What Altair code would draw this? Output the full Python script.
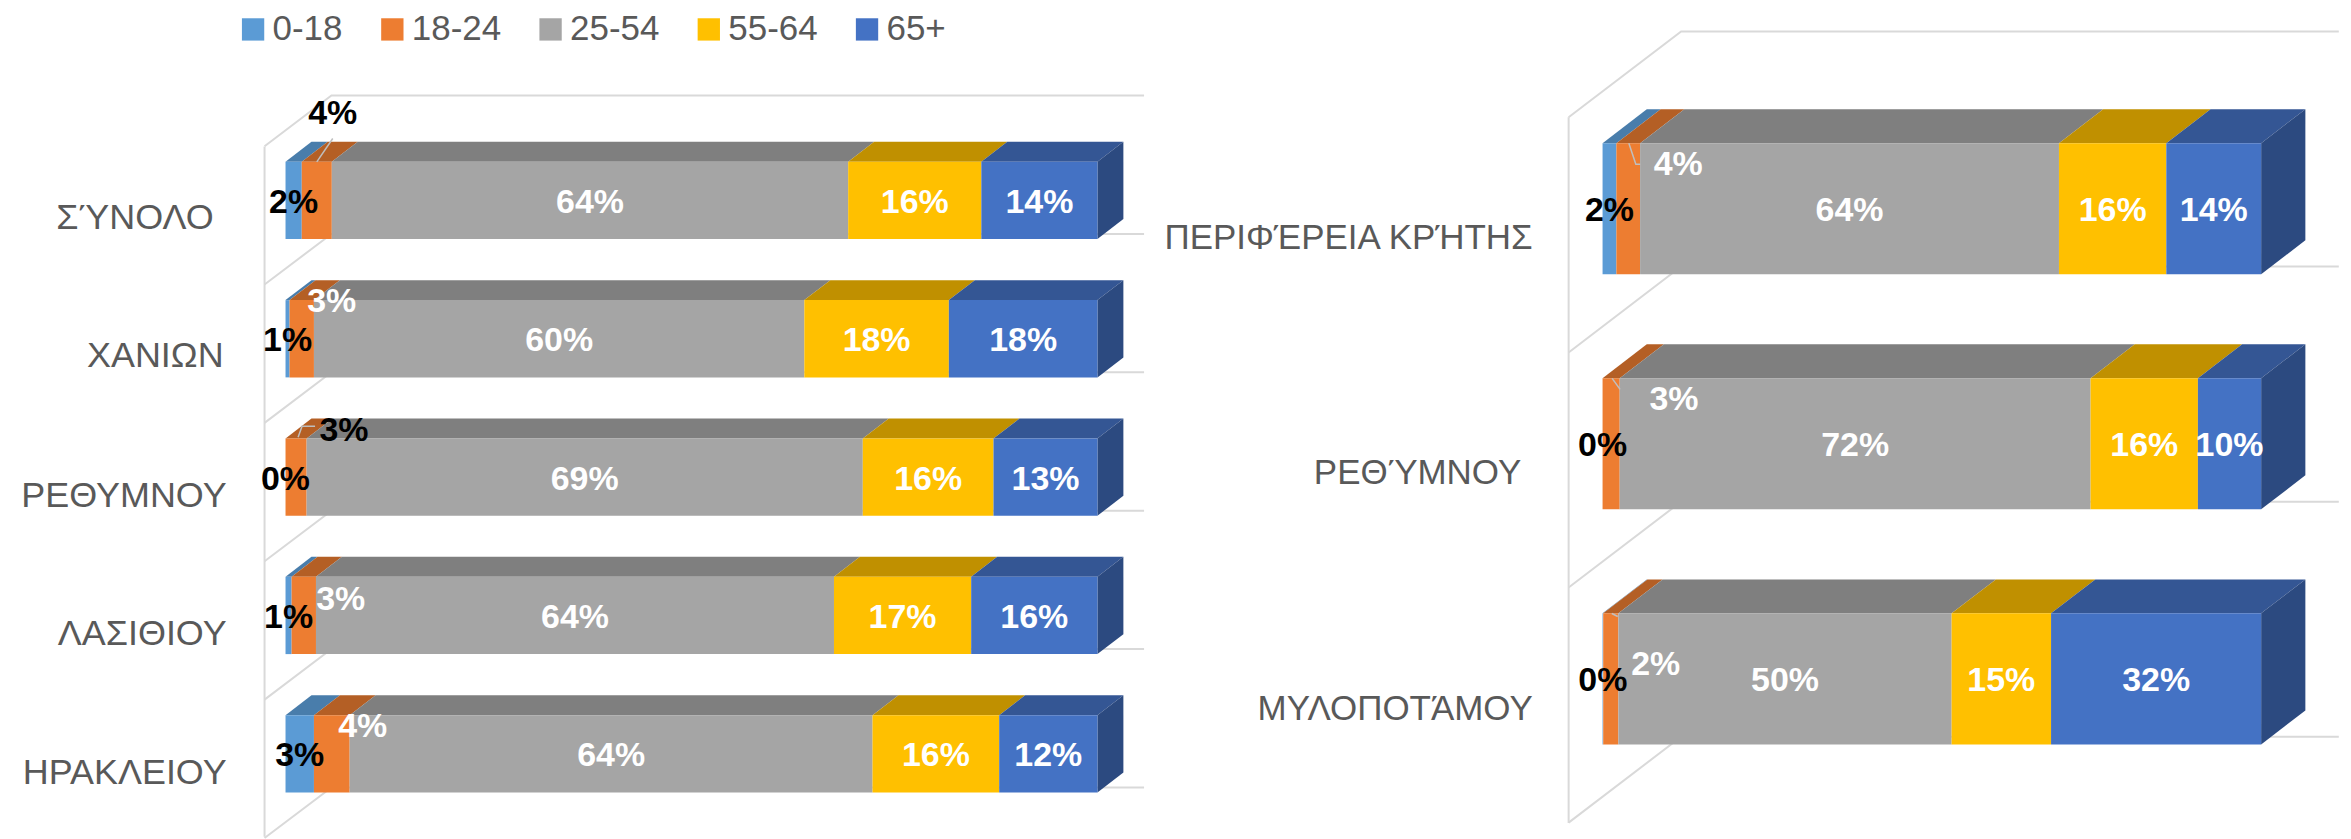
import altair as alt
import pandas as pd

# ---------- chart values ----------
series = ["0-18", "18-24", "25-54", "55-64", "65+"]

left_categories = ["ΣΎΝΟΛΟ", "ΧΑΝΙΩΝ", "ΡΕΘΥΜΝΟΥ", "ΛΑΣΙΘΙΟΥ", "ΗΡΑΚΛΕΙΟΥ"]
left_values = [
    [2.0, 3.7, 63.6, 16.4, 14.3],
    [0.5, 3.0, 60.4, 17.8, 18.3],
    [0.0, 2.6, 68.5, 16.1, 12.8],
    [0.75, 3.0, 63.8, 16.9, 15.55],
    [3.5, 4.4, 64.4, 15.6, 12.1],
]
left_labels = [
    ["2%", "4%", "64%", "16%", "14%"],
    ["1%", "3%", "60%", "18%", "18%"],
    ["0%", "3%", "69%", "16%", "13%"],
    ["1%", "3%", "64%", "17%", "16%"],
    ["3%", "4%", "64%", "16%", "12%"],
]

right_categories = ["ΠΕΡΙΦΈΡΕΙΑ ΚΡΉΤΗΣ", "ΡΕΘΎΜΝΟΥ", "ΜΥΛΟΠΟΤΆΜΟΥ"]
right_values = [
    [2.1, 3.6, 63.6, 16.3, 14.4],
    [0.0, 2.6, 71.5, 16.3, 9.6],
    [0.1, 2.3, 50.6, 15.1, 31.9],
]
right_labels = [
    ["2%", "4%", "64%", "16%", "14%"],
    ["0%", "3%", "72%", "16%", "10%"],
    ["0%", "2%", "50%", "15%", "32%"],
]

# ---------- styles ----------
front_colors = ["#5B9BD5", "#ED7D31", "#A5A5A5", "#FFC000", "#4472C4"]
top_colors = ["#497DAB", "#B45F25", "#7F7F7F", "#C09000", "#345694"]
side_color = "#2C4A80"
grid_color = "#D9D9D9"
text_grey = "#595959"
FONT = "Liberation Sans"
PAGE_TOP = 8
PANEL_H = 830

left_cfg = dict(
    cats=left_categories, vals=left_values, labs=left_labels,
    left=8, width=1152, x0=286, x100=1099.3, row0=200, band=138.6,
    bar_h=77.4, ddx=26, ddy=20,
    wall_dx=-21, back_dx=46, grid_end_dx=860, back_dy=-105, diag_dy=50.7,
    wall_top=-54, wall_bottom=637.5, grid_rows=6,
    cat_size=36, cat_dx=[-72, -62, -59, -59, -59], cat_dy=[18, 17.5, 19, 18.5, 19],
    # row, segment: offset of an outside label, and its text colour
    moved={(0, 1): (16, -87, "black"), (1, 1): (30, -37, "white"),
           (2, 1): (48, -46, "black"), (3, 1): (37, -15.5, "white"),
           (4, 1): (31, -27, "white")},
    leaders=[(0, 1, [(16, -62), (0, -38.5)]),
             (2, 1, [(2, -40), (6, -51), (19, -51)])],
)
right_cfg = dict(
    cats=right_categories, vals=right_values, labs=right_labels,
    left=1160, width=1183, x0=1605.3, x100=2265, row0=208.3, band=235.5,
    bar_h=131.3, ddx=44.3, ddy=34,
    wall_dx=-34, back_dx=78.7, grid_end_dx=737.5, back_dy=-177.5, diag_dy=86,
    wall_top=-91.5, wall_bottom=615.5, grid_rows=4,
    cat_size=35, cat_dx=[-70, -81.5, -70], cat_dy=[29, 29, 30],
    moved={(0, 1): (50, -43.5, "white"), (1, 1): (63, -43.5, "white"),
           (2, 1): (45, -13.5, "white")},
    leaders=[(0, 1, [(0.6, -65.5), (7.6, -44.5), (12, -44.5)]),
             (1, 1, [(1, -65.5), (9, -54.5)]),
             (2, 1, [(1, -65.5), (7, -62.5)])],
)


def panel(c, legend):
    ppx = (c["x100"] - c["x0"]) / 100.0
    band = c["band"]
    xs = alt.Scale(domain=[(c["left"] - c["x0"]) / ppx, (c["left"] + c["width"] - c["x0"]) / ppx],
                   nice=False, zero=False)
    ys = alt.Scale(domain=[(PAGE_TOP - c["row0"]) / band, (PAGE_TOP + PANEL_H - c["row0"]) / band],
                   nice=False, zero=False, reverse=True)
    X = lambda f: alt.X(f, type="quantitative", scale=xs, axis=None, stack=None)
    Y = lambda f: alt.Y(f, type="quantitative", scale=ys, axis=None, stack=None)
    dx, dy = c["ddx"] / ppx, c["ddy"] / band
    half = c["bar_h"] / 2 / band

    # wall and grid lines
    lines = []
    wx, bx, ex = c["wall_dx"] / ppx, c["back_dx"] / ppx, c["grid_end_dx"] / ppx
    lines += [("wall", 0, wx, c["wall_top"] / band), ("wall", 1, wx, c["wall_bottom"] / band)]
    for k in range(c["grid_rows"]):
        by = k + c["back_dy"] / band
        fy = by + c["diag_dy"] / band
        lines += [(f"g{k}", 0, wx, fy), (f"g{k}", 1, bx, by), (f"g{k}", 2, ex, by)]
    grid = alt.Chart(pd.DataFrame(lines, columns=["id", "o", "x", "y"])).mark_line(
        color=grid_color, strokeWidth=2).encode(
        x=X("x"), y=Y("y"), detail="id:N", order="o:Q")

    # bars
    front, tops, sides, texts, leaders = [], [], [], [], []
    for r, vals in enumerate(c["vals"]):
        cum = 0.0
        for s, v in enumerate(vals):
            a, b = cum, cum + v
            cum = b
            if v > 0:
                front.append(dict(series=series[s], x=a, x2=b, y=r - half, y2=r + half))
                tops += [dict(s=s, row=r, y=r - half, x=a, x2=b),
                         dict(s=s, row=r, y=r - half - dy, x=a + dx, x2=b + dx)]
            ox, oy, col = c["moved"].get((r, s), (0, 2.5, "black" if s == 0 else "white"))
            texts.append(dict(t=c["labs"][r][s], x=(a + b) / 2 + ox / ppx, y=r + oy / band, col=col))
        sides += [dict(row=r, x=cum, y=r - half, y2=r + half),
                  dict(row=r, x=cum + dx, y=r - half - dy, y2=r + half - dy)]

    layers = [grid]
    top_df = pd.DataFrame(tops)
    for s, col in enumerate(top_colors):
        layers.append(alt.Chart(top_df[top_df.s == s]).mark_area(orient="horizontal", color=col).encode(
            y=Y("y"), x=X("x"), x2="x2:Q", detail="row:N"))
    layers.append(alt.Chart(pd.DataFrame(sides)).mark_area(orient="vertical", color=side_color).encode(
        x=X("x"), y=Y("y"), y2="y2:Q", detail="row:N"))

    leg = alt.Legend(title=None, orient="none", legendX=228, legendY=3, direction="horizontal",
                     columns=5, symbolType="square", symbolSize=500, symbolStrokeWidth=0, padding=0,
                     symbolOpacity=1, labelFont=FONT, labelFontSize=35, labelColor=text_grey,
                     labelOffset=2, columnPadding=31.5, labelLimit=200) if legend else None
    layers.append(alt.Chart(pd.DataFrame(front)).mark_rect(opacity=1).encode(
        x=X("x"), x2="x2:Q", y=Y("y"), y2="y2:Q",
        color=alt.Color("series:N", scale=alt.Scale(domain=series, range=front_colors), legend=leg)))

    # leader lines
    for i, (r, s, pts) in enumerate(c["leaders"]):
        vals = c["vals"][r]
        mid = sum(vals[:s]) + vals[s] / 2
        for o, (px, py) in enumerate(pts):
            leaders.append(dict(id=i, o=o, x=mid + px / ppx, y=r + py / band))
    layers.append(alt.Chart(pd.DataFrame(leaders)).mark_line(color="#BFBFBF", strokeWidth=1.5).encode(
        x=X("x"), y=Y("y"), detail="id:N", order="o:Q"))

    # data labels
    txt = pd.DataFrame(texts)
    for col in ["white", "black"]:
        layers.append(alt.Chart(txt[txt.col == col]).mark_text(
            font=FONT, fontWeight="bold", fontSize=34, color=col, baseline="middle", align="center").encode(
            x=X("x"), y=Y("y"), text="t:N"))

    # category labels
    cat = pd.DataFrame([dict(t=t, x=c["cat_dx"][i] / ppx, y=i + c["cat_dy"][i] / band)
                        for i, t in enumerate(c["cats"])])
    layers.append(alt.Chart(cat).mark_text(
        font=FONT, fontSize=c["cat_size"], color=text_grey, baseline="middle", align="right").encode(
        x=X("x"), y=Y("y"), text="t:N"))

    return alt.layer(*layers).properties(width=c["width"], height=PANEL_H)


chart = alt.hconcat(panel(left_cfg, True), panel(right_cfg, False), spacing=0).properties(
    padding=0, background="white"
).configure_view(stroke=None)

chart.save("out.html", embed_options={"renderer": "svg", "actions": False})
